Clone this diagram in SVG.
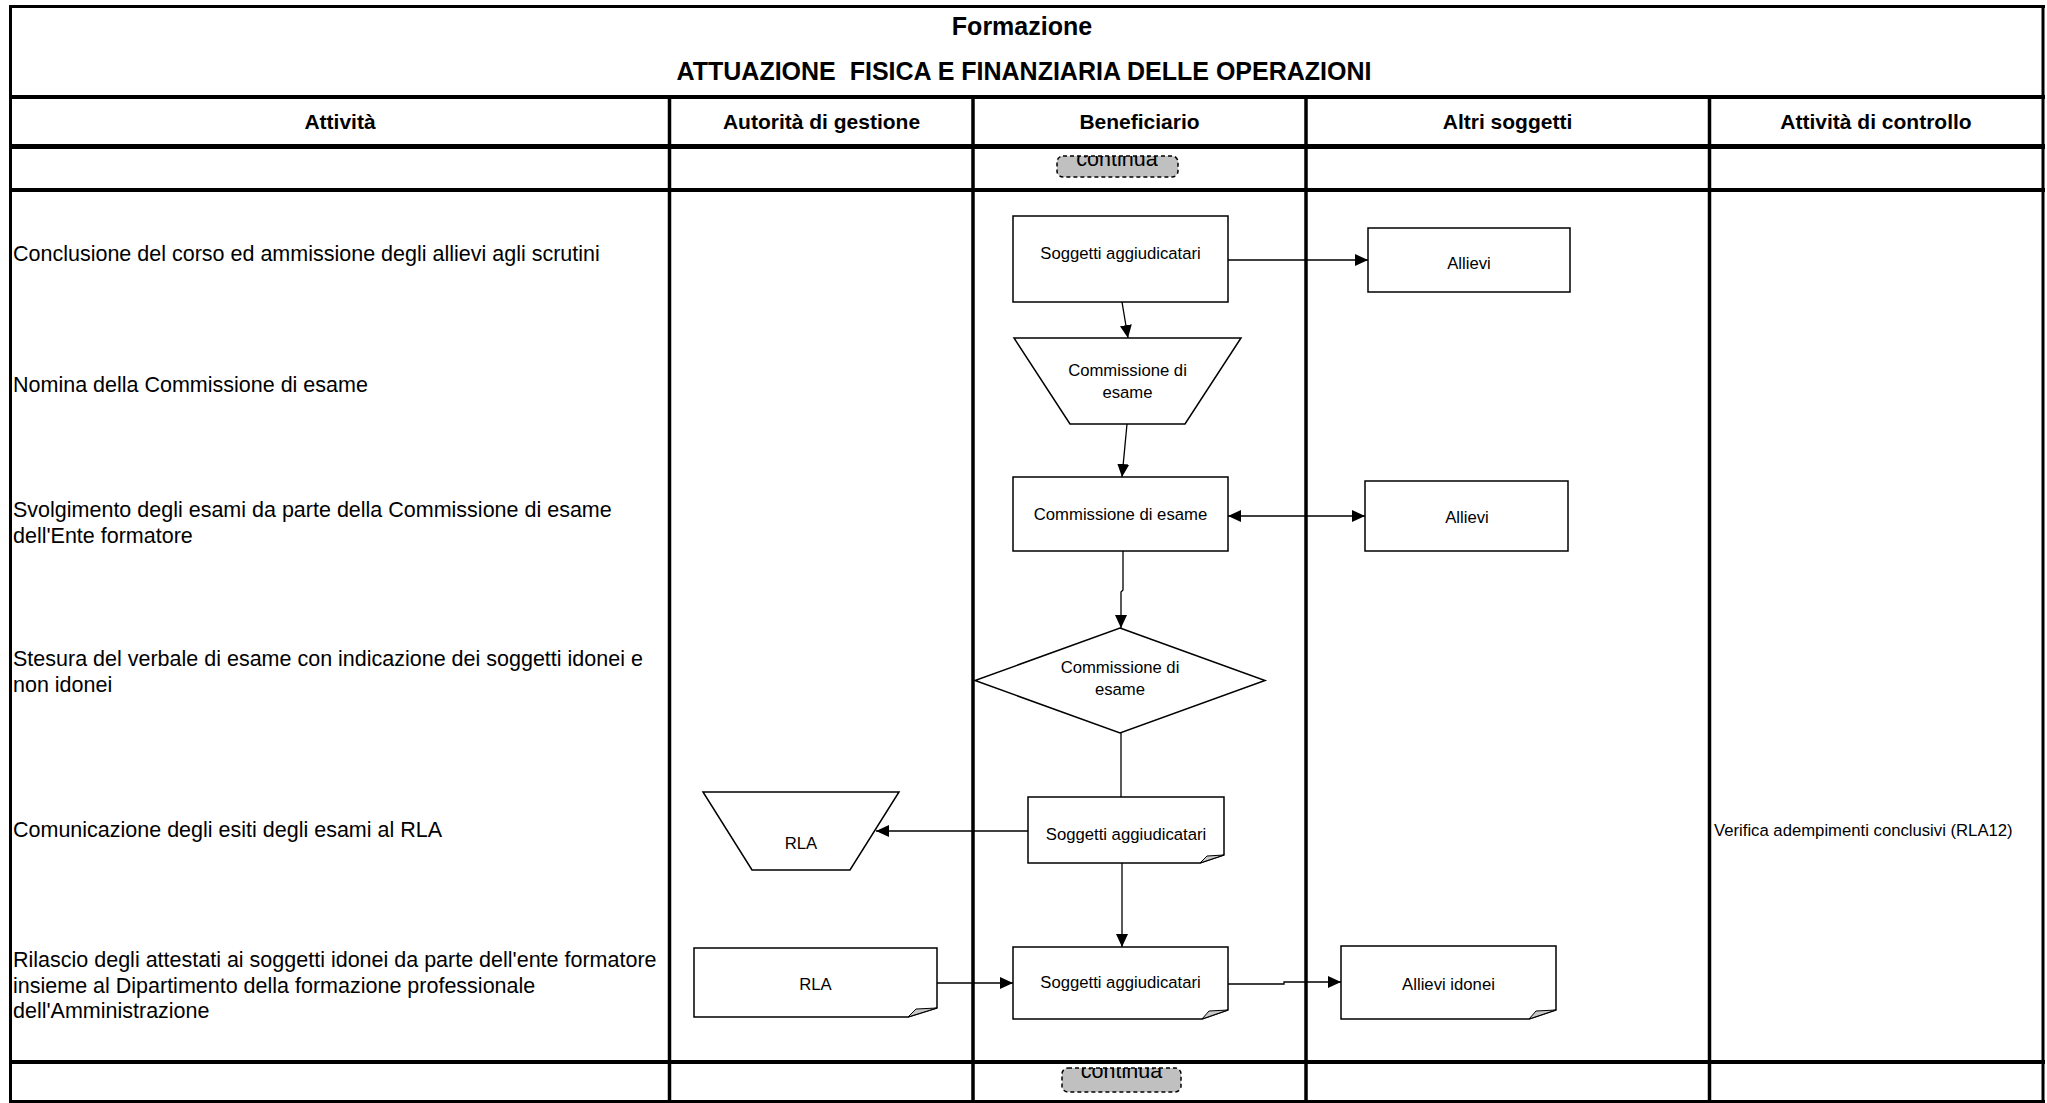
<svg xmlns="http://www.w3.org/2000/svg" width="2047" height="1103" viewBox="0 0 2047 1103">
<style>
text{font-family:"Liberation Sans",Arial,sans-serif;fill:#000}
.ttl{font-size:25px;font-weight:bold;text-anchor:middle}
.hdr{font-size:21px;font-weight:bold;text-anchor:middle}
.act{font-size:21.5px}
.lbl{font-size:16.7px;text-anchor:middle}
.ctl{font-size:16.7px}
.cont{font-size:21.5px;text-anchor:middle}
.g{stroke:#000;fill:none}
.node{fill:#fff;stroke:#000;stroke-width:1.5}
.fold{fill:#c8c8c8;stroke:#000;stroke-width:1}
.cbox{fill:#c0c0c0;stroke:#000;stroke-width:1.5;stroke-dasharray:4 3}
.conn{stroke:#000;stroke-width:1.3;fill:none}
</style>
<defs>
<marker id="ah" viewBox="0 0 13 12" refX="13" refY="6" markerWidth="13" markerHeight="12" markerUnits="userSpaceOnUse" orient="auto-start-reverse"><path d="M0,0 L13,6 L0,12 Z" fill="#000"/></marker>
<clipPath id="c1"><rect x="1057" y="156" width="121" height="21" rx="6"/></clipPath>
<clipPath id="c2"><rect x="1062" y="1068" width="119" height="24" rx="6"/></clipPath>
</defs>
<rect width="2047" height="1103" fill="#fff"/>

<g id="grid">
<line class="g" x1="9" y1="6.5" x2="2045" y2="6.5" stroke-width="3"/>
<line class="g" x1="9" y1="97" x2="2045" y2="97" stroke-width="4"/>
<line class="g" x1="9" y1="146.5" x2="2045" y2="146.5" stroke-width="5"/>
<line class="g" x1="9" y1="190" x2="2045" y2="190" stroke-width="4"/>
<line class="g" x1="9" y1="1062" x2="2045" y2="1062" stroke-width="4"/>
<line class="g" x1="9" y1="1101.5" x2="2045" y2="1101.5" stroke-width="3"/>
<line class="g" x1="10.5" y1="5" x2="10.5" y2="1103" stroke-width="3"/>
<line class="g" x1="2043" y1="5" x2="2043" y2="1103" stroke-width="3"/>
<line class="g" x1="669.5" y1="97" x2="669.5" y2="1103" stroke-width="3.5"/>
<line class="g" x1="973" y1="97" x2="973" y2="1103" stroke-width="3.5"/>
<line class="g" x1="1306" y1="97" x2="1306" y2="1103" stroke-width="3.5"/>
<line class="g" x1="1709.5" y1="97" x2="1709.5" y2="1103" stroke-width="3.5"/>
</g>

<g id="titles">
<text class="ttl" x="1022" y="35">Formazione</text>
<text class="ttl" x="1024" y="80" xml:space="preserve">ATTUAZIONE  FISICA E FINANZIARIA DELLE OPERAZIONI</text>
<text class="hdr" x="340" y="129">Attività</text>
<text class="hdr" x="821.5" y="129">Autorità di gestione</text>
<text class="hdr" x="1139.5" y="129">Beneficiario</text>
<text class="hdr" x="1507.5" y="129">Altri soggetti</text>
<text class="hdr" x="1876" y="129">Attività di controllo</text>
</g>

<g id="activities">
<text class="act" x="13" y="261">Conclusione del corso ed ammissione degli allievi agli scrutini</text>
<text class="act" x="13" y="392">Nomina della Commissione di esame</text>
<text class="act" x="13" y="517">Svolgimento degli esami da parte della Commissione di esame</text>
<text class="act" x="13" y="543">dell'Ente formatore</text>
<text class="act" x="13" y="666">Stesura del verbale di esame con indicazione dei soggetti idonei e</text>
<text class="act" x="13" y="692">non idonei</text>
<text class="act" x="13" y="837">Comunicazione degli esiti degli esami al RLA</text>
<text class="act" x="13" y="967">Rilascio degli attestati ai soggetti idonei da parte dell'ente formatore</text>
<text class="act" x="13" y="993">insieme al Dipartimento della formazione professionale</text>
<text class="act" x="13" y="1018">dell'Amministrazione</text>
<text class="ctl" x="1714" y="836">Verifica adempimenti conclusivi (RLA12)</text>
</g>

<g id="continua-top">
<rect class="cbox" x="1057" y="156" width="121" height="21" rx="6"/>
<text class="cont" x="1117" y="166" clip-path="url(#c1)">continua</text>
</g>
<g id="continua-bottom">
<rect class="cbox" x="1062" y="1068" width="119" height="24" rx="6"/>
<text class="cont" x="1121.5" y="1078" clip-path="url(#c2)">continua</text>
</g>

<g id="connectors">
<line class="conn" x1="1228" y1="260" x2="1368" y2="260" marker-end="url(#ah)"/>
<line class="conn" x1="1122" y1="302" x2="1128" y2="338" marker-end="url(#ah)"/>
<line class="conn" x1="1127" y1="424" x2="1122" y2="477" marker-end="url(#ah)"/>
<line class="conn" x1="1228" y1="516" x2="1365" y2="516" marker-start="url(#ah)" marker-end="url(#ah)"/>
<polyline class="conn" points="1123,551 1123,590 1121,592 1121,628" marker-end="url(#ah)"/>
<line class="conn" x1="1121" y1="733" x2="1121" y2="797"/>
<line class="conn" x1="1028" y1="831" x2="876" y2="831" marker-end="url(#ah)"/>
<line class="conn" x1="1122" y1="863" x2="1122" y2="947" marker-end="url(#ah)"/>
<line class="conn" x1="937" y1="983" x2="1013" y2="983" marker-end="url(#ah)"/>
<polyline class="conn" points="1228,984 1284,984 1284,982 1341,982" marker-end="url(#ah)"/>
</g>

<g id="n1">
<rect class="node" x="1013" y="216" width="215" height="86"/>
<text class="lbl" x="1120.5" y="259">Soggetti aggiudicatari</text>
</g>
<g id="n2">
<rect class="node" x="1368" y="228" width="202" height="64"/>
<text class="lbl" x="1469" y="269">Allievi</text>
</g>
<g id="n3">
<polygon class="node" points="1014,338 1241,338 1185,424 1070,424"/>
<text class="lbl" x="1127.5" y="376">Commissione di</text>
<text class="lbl" x="1127.5" y="398">esame</text>
</g>
<g id="n4">
<rect class="node" x="1013" y="477" width="215" height="74"/>
<text class="lbl" x="1120.5" y="520">Commissione di esame</text>
</g>
<g id="n5">
<rect class="node" x="1365" y="481" width="203" height="70"/>
<text class="lbl" x="1467" y="523">Allievi</text>
</g>
<g id="n6">
<polygon class="node" points="1120,628 1265,680.5 1120,733 975,680.5"/>
<text class="lbl" x="1120" y="673">Commissione di</text>
<text class="lbl" x="1120" y="695">esame</text>
</g>
<g id="n7">
<polygon class="node" points="703,792 899,792 850,870 752,870"/>
<text class="lbl" x="801" y="849">RLA</text>
</g>
<g id="n8">
<path class="node" d="M1028,797 H1224 V855 L1200,863 H1028 Z"/>
<path class="fold" d="M1200,863 L1224,855 L1207,856 Z"/>
<text class="lbl" x="1126" y="840">Soggetti aggiudicatari</text>
</g>
<g id="n9">
<path class="node" d="M694,948 H937 V1008 L908,1017 H694 Z"/>
<path class="fold" d="M908,1017 L937,1008 L916,1009 Z"/>
<text class="lbl" x="815.5" y="990">RLA</text>
</g>
<g id="n10">
<path class="node" d="M1013,947 H1228 V1010 L1202,1019 H1013 Z"/>
<path class="fold" d="M1202,1019 L1228,1010 L1209,1011 Z"/>
<text class="lbl" x="1120.5" y="988">Soggetti aggiudicatari</text>
</g>
<g id="n11">
<path class="node" d="M1341,946 H1556 V1010 L1529,1019 H1341 Z"/>
<path class="fold" d="M1529,1019 L1556,1010 L1536,1011 Z"/>
<text class="lbl" x="1448.5" y="990">Allievi idonei</text>
</g>
</svg>
